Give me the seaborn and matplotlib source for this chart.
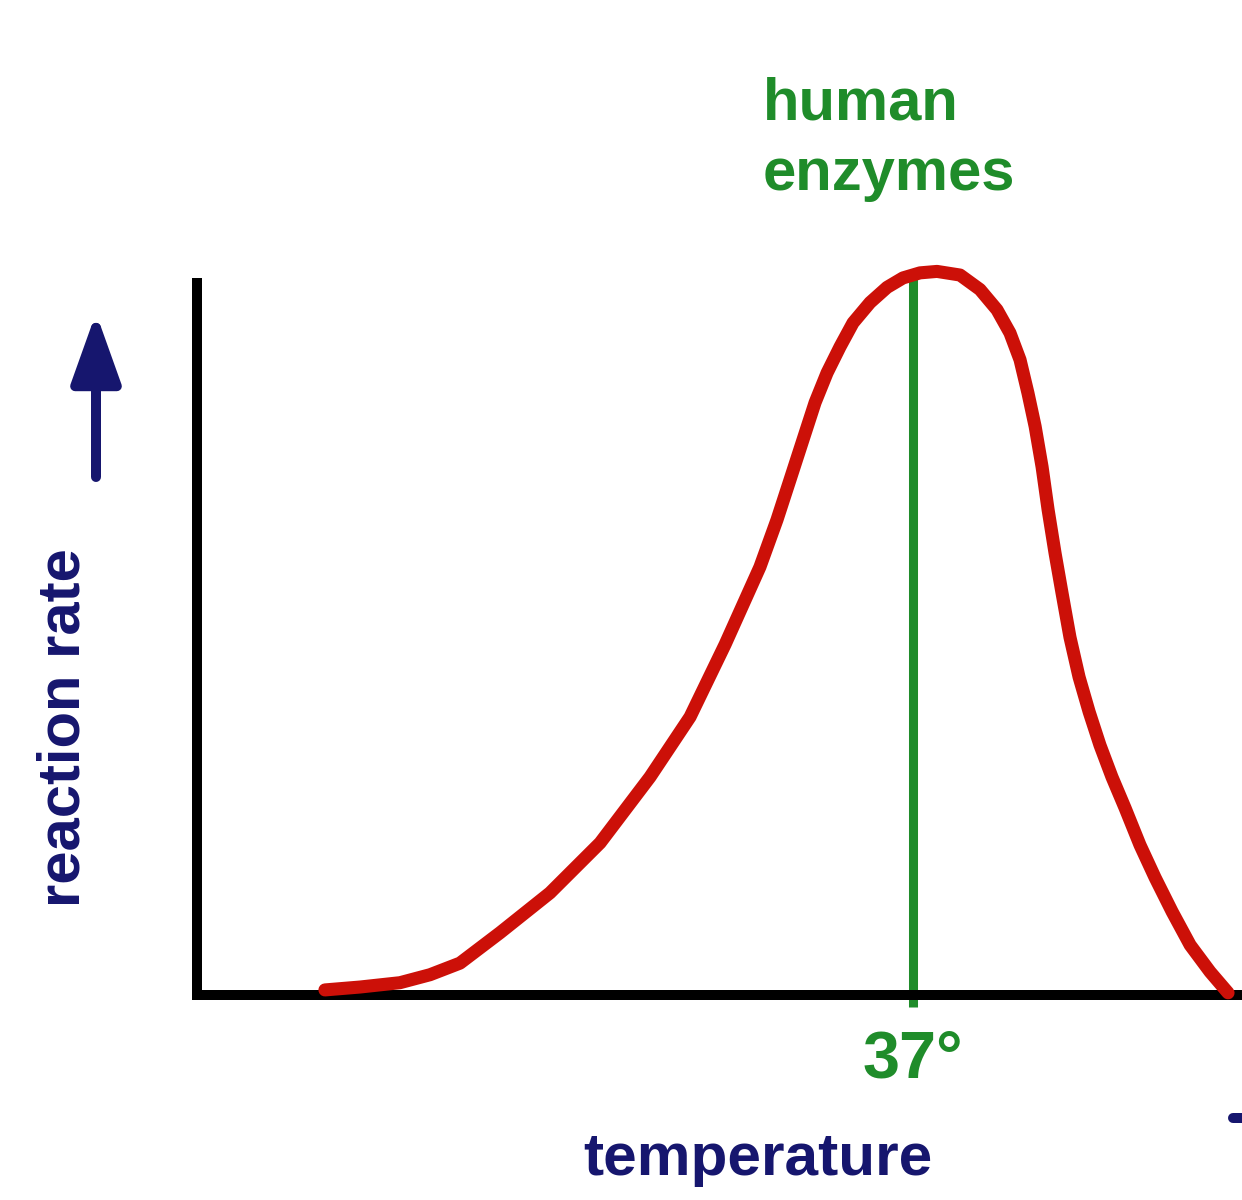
import numpy as np
import pandas as pd
import seaborn as sns
import matplotlib.pyplot as plt
from matplotlib.lines import Line2D

# Values (schematic enzyme activity curve)
temperature = [6.61, 8.42, 10.49, 12.04, 13.59, 15.66, 18.24, 20.83, 23.41,
               25.48, 27.29, 29.09, 29.97, 30.64, 31.32, 31.94, 32.56,
               33.23, 33.90, 34.78, 35.66, 36.48, 37.36, 38.24, 39.43, 40.46,
               41.34, 42.01, 42.53, 42.94, 43.31, 43.67, 43.98, 44.34, 44.70,
               45.11, 45.58, 46.10, 46.66, 47.28, 47.96, 48.73, 49.51, 50.39,
               51.32, 52.35, 53.28]
rate = [0.007, 0.011, 0.017, 0.028, 0.044, 0.086, 0.141, 0.210, 0.301,
        0.384, 0.484, 0.591, 0.656, 0.711, 0.767, 0.818, 0.859,
        0.895, 0.928, 0.956, 0.977, 0.990, 0.997, 0.999, 0.994, 0.974,
        0.946, 0.914, 0.877, 0.831, 0.785, 0.729, 0.670, 0.610, 0.555,
        0.494, 0.439, 0.391, 0.345, 0.301, 0.258, 0.207, 0.162, 0.115,
        0.069, 0.032, 0.003]
optimum = 37
optimum_label = "37°"

df = pd.DataFrame({"temperature": temperature, "rate": rate})

red = "#cc1008"
green = "#1f8c2a"
navy = "#16166e"

sns.set_theme(style="white")
plt.rcParams["font.family"] = ["Liberation Sans", "DejaVu Sans"]

fig = plt.figure(figsize=(12.42, 12.0), dpi=100)
ax = fig.add_axes([197 / 1242, 205 / 1200, 1045 / 1242, 712 / 1200])

# optimum marker line
ax.vlines(optimum, -0.017, 0.994, color=green, linewidth=6.5, zorder=2,
          clip_on=False)

sns.lineplot(data=df, x="temperature", y="rate", estimator=None, sort=False,
             color=red, linewidth=9.4, ax=ax, zorder=3, clip_on=False)
ax.lines[-1].set_solid_joinstyle("round")

ax.set_xlim(0, 54.0)
ax.set_ylim(0, 0.983)
ax.set_xlabel("")
ax.set_ylabel("")
ax.set_xticks([optimum])
ax.set_xticklabels([optimum_label])
ax.set_yticks([])
ax.tick_params(axis="x", length=0, pad=25, labelsize=48, labelcolor=green)
for lab in ax.get_xticklabels():
    lab.set_fontweight("bold")

for side in ["top", "right"]:
    ax.spines[side].set_visible(False)
for side in ["left", "bottom"]:
    ax.spines[side].set_color("black")
    ax.spines[side].set_linewidth(7.2)

# labels
fig.text(763 / 1242, (1200 - 120) / 1200, "human", color=green, fontsize=43,
         fontweight="bold", ha="left", va="baseline")
fig.text(763 / 1242, (1200 - 190) / 1200, "enzymes", color=green, fontsize=43,
         fontweight="bold", ha="left", va="baseline")
fig.text(583 / 1242, (1200 - 1175) / 1200, "temperature", color=navy,
         fontsize=43.5, fontweight="bold", ha="left", va="baseline")
fig.text(80 / 1242, (1200 - 907) / 1200, "reaction rate", color=navy,
         fontsize=43, fontweight="bold", rotation=90, rotation_mode="anchor",
         ha="left", va="baseline")

# up arrow next to the y label
ax.annotate("", xy=(96, 1200 - 313), xytext=(96, 1200 - 477),
            xycoords="figure pixels", textcoords="figure pixels",
            arrowprops=dict(arrowstyle="-|>,head_length=42,head_width=15",
                            mutation_scale=1, color=navy, lw=7.2,
                            shrinkA=0, shrinkB=0, capstyle="round"))

# stub of the cut-off right arrow at the bottom edge
fig.add_artist(Line2D([1233 / 1242, 1.01], [82 / 1200, 82 / 1200],
                      transform=fig.transFigure, color=navy, linewidth=7.2,
                      solid_capstyle="round"))

fig.savefig("out.png", dpi=100, facecolor="white")
